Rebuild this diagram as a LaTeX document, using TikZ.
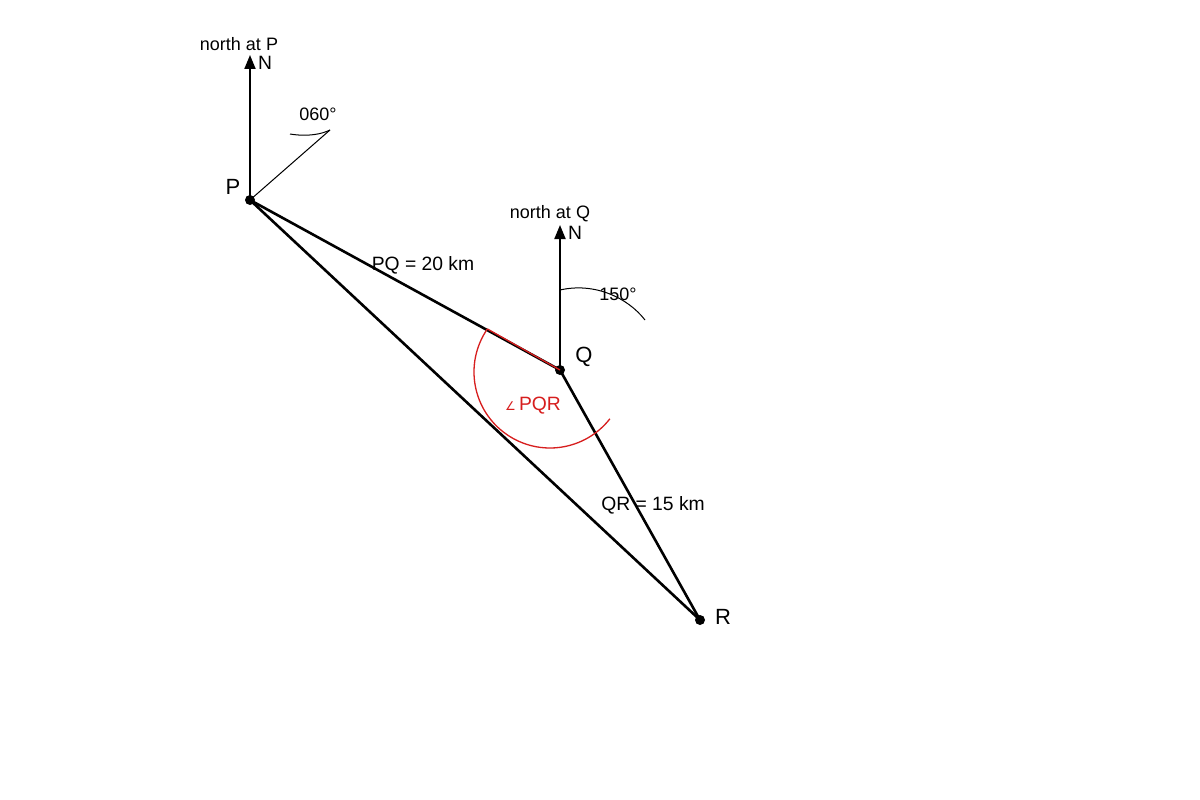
\documentclass[tikz,border=0pt]{standalone}
\usepackage{fontspec}
\setmainfont{Liberation Sans}
\newfontfamily\symfont{DejaVu Sans}
\usetikzlibrary{arrows.meta,calc}
\definecolor{angred}{RGB}{215,30,30}
\begin{document}
\begin{tikzpicture}[x=1pt,y=-1pt,
  dot/.style={circle,fill=black,inner sep=0pt,minimum size=10pt},
  mainline/.style={line width=2.6pt,black},
  northline/.style={line width=2pt,black,-{Triangle[length=14pt,width=11pt]}},
  thinline/.style={line width=1pt,black},
  lab/.style={inner sep=0pt,font=\fontsize{19.3}{21}\selectfont},
  ptlab/.style={inner sep=0pt,font=\fontsize{22}{24}\selectfont},
  smalllab/.style={inner sep=0pt,font=\fontsize{18}{20}\selectfont},
  redline/.style={line width=1.3pt,angred}]
\useasboundingbox (0,0) rectangle (1200,800);
\fill[white] (0,0) rectangle (1200,800);
% points
\node[dot] (P) at (250,200) {};
\node[dot] (Q) at (560,370) {};
\node[dot] (R) at (700,620) {};
\coordinate (NP) at (250,55);
\coordinate (NQ) at (560,225);
\coordinate (B60) at (330,130);
\coordinate (AC) at (550,372);
\coordinate (A) at ($(AC)+(214.5:76)$);
% triangle
\draw[mainline] (P.center) -- (Q.center);
\draw[mainline] (Q.center) -- (R.center);
\draw[mainline] (P.center) -- (R.center);
% north lines
\draw[northline] (P.center) -- (NP);
\draw[northline] (Q.center) -- (NQ);
% bearing 060
\draw[thinline] (P.center) -- (B60);
\draw[thinline] (290,134) .. controls (308,137) and (322,134) .. (B60);
% bearing 150
\draw[thinline] (560,290) .. controls (595,282) and (628,298) .. (645,320);
% red angle
\draw[redline] (A) -- (Q.center);
\draw[redline] (A) arc[start angle=214.5,end angle=38,radius=76];
% labels
\node[smalllab] (tNP) at (239,44) {north at P};
\node[lab] (nP) at (265,63) {N};
\node[smalllab] (t60) at (318,114) {060°};
\node[ptlab] (lP) at (233,187) {P};
\node[smalllab] (tNQ) at (550,214) {north at Q};
\node[lab] (nQ) at (575,233) {N};
\node[smalllab] (t150) at (618,294) {150°};
\node[ptlab] (lQ) at (584,357) {Q};
\node[ptlab] (lR) at (723,617) {R};
\node[lab] (tPQ) at (423,265) {PQ = 20 km};
\node[lab] (tQR) at (653,505) {QR = 15 km};
\node[lab,text=angred] (tang) at (533,406) {{\symfont\fontsize{12}{14}\selectfont ∠}\,PQR};
\end{tikzpicture}
\end{document}
